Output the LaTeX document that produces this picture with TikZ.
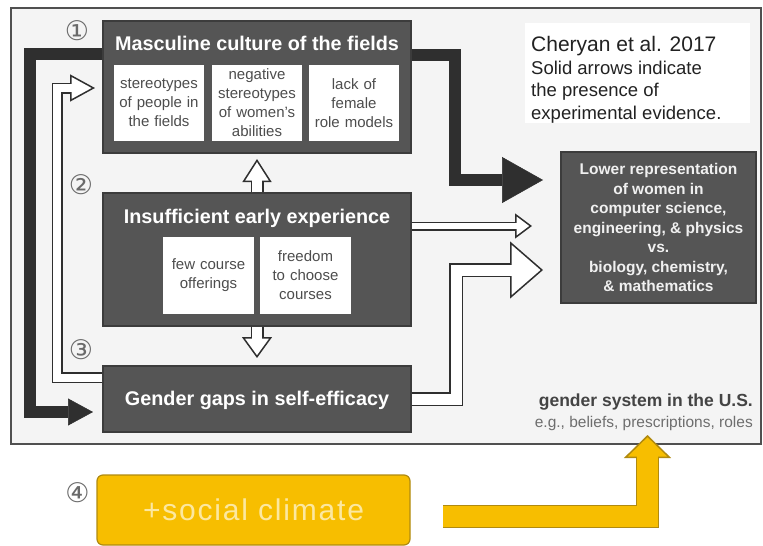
\documentclass[tikz,border=0pt]{standalone}
\usepackage{fontspec}
\setmainfont{Liberation Sans}
\newfontfamily\dejavu{DejaVu Sans}
\usetikzlibrary{arrows.meta,calc}
\definecolor{boxdark}{HTML}{555555}
\definecolor{boxedge}{HTML}{3C3C3C}
\definecolor{arrowdark}{HTML}{2F2F2F}
\definecolor{framebg}{HTML}{F4F4F4}
\definecolor{frameedge}{HTML}{505050}
\definecolor{yel}{HTML}{F7BE00}
\definecolor{yeledge}{HTML}{B08A10}
\definecolor{yeltext}{HTML}{FCE8A0}
\definecolor{numgray}{HTML}{6A6A6A}
\definecolor{subtext}{HTML}{4D4D4D}
\definecolor{gsgray}{HTML}{444444}
\definecolor{eggray}{HTML}{6E6E6E}
\definecolor{citetext}{HTML}{222222}
\definecolor{outtext}{HTML}{F0F0F0}
\tikzset{
  darkbox/.style={draw=boxedge, line width=1.5pt, fill=boxdark, inner sep=0pt},
  whitebox/.style={fill=white, draw=none, inner sep=0pt, align=center, text=subtext,
    font=\fontsize{15}{19}\selectfont},
  boxtitle/.style={text=white, font=\fontsize{19.8}{22}\selectfont\bfseries, inner sep=0pt, anchor=base},
  num/.style={text=numgray, font=\dejavu\fontsize{27}{27}\selectfont, inner sep=0pt},
  solidarrow/.style={draw=arrowdark, line width=12pt, line join=miter},
}
% #1 edge colour, #2 fill colour, #3 outer width, #4 inner width, #5 head length, #6 head width, #7 shorten, #8 path
\newcommand{\hollowarrow}[8]{%
  \draw[draw=#1, line width=#3, line join=miter,
        -{Triangle[length=#5, width=#6, color=#1, fill=#2, line width=1.5pt]}] #8;
  \draw[draw=#2, line width=#4, line join=miter, shorten >=#7] #8;
}
\begin{document}
\begin{tikzpicture}[x=1pt,y=-1pt]
\useasboundingbox (0,0) rectangle (763,546);
% frame
\node[draw=frameedge, line width=2pt, fill=framebg, minimum width=750pt, minimum height=436pt, inner sep=0pt] (frame) at (386,226) {};

% box 1
\node[darkbox, minimum width=308pt, minimum height=132pt] (m) at (257,87) {};
\node[boxtitle] (mt) at (257,50) {Masculine culture of the fields};
\node[whitebox, text width=90pt, minimum height=76pt] (m1) at (159,103) {stereotypes\\of people in\\the fields};
\node[whitebox, text width=90pt, minimum height=76pt] (m2) at (257,103) {negative\\stereotypes\\of women’s\\abilities};
\node[whitebox, text width=90pt, minimum height=76pt] (m3) at (354,103) {lack of\\female\\role models};

% box 2
\node[darkbox, minimum width=308pt, minimum height=133pt] (ins) at (257,259.5) {};
\node[boxtitle] (it) at (257,223) {Insufficient early experience};
\node[whitebox, text width=91pt, minimum height=77pt] (i1) at (208.5,275.5) {few course\\offerings};
\node[whitebox, text width=91pt, minimum height=77pt] (i2) at (305.5,275.5) {freedom\\to choose\\courses};

% box 3
\node[darkbox, minimum width=308pt, minimum height=66pt] (gg) at (257,399) {};
\node[boxtitle] (gt) at (257,405) {Gender gaps in self-efficacy};

% outcome
\node[darkbox, minimum width=195pt, minimum height=151pt, align=center, text=outtext,
  font=\fontsize{15.5}{19.5}\selectfont\bfseries] (out) at (658.5,227.5)
  {Lower representation\\of women in\\computer science,\\engineering, \& physics\\vs.\\biology, chemistry,\\\& mathematics};

% citation
\node[fill=white, draw=none, minimum width=225pt, minimum height=100pt, inner sep=0pt] (cite) at (637.5,73) {};
\node[anchor=west, align=left, inner sep=0pt, text=citetext, font=\fontsize{18.5}{22.5}\selectfont] (citetxt) at (531,80)
  {{\fontsize{21}{22.5}\selectfont Cheryan et al. 2017}\\Solid arrows indicate\\the presence of\\experimental evidence.};

% gender system
\node[anchor=base east, inner sep=0pt, text=gsgray, font=\fontsize{17.5}{20}\selectfont\bfseries] (gs) at (753,406) {gender system in the U.S.};
\node[anchor=base east, inner sep=0pt, text=eggray, font=\fontsize{15.5}{18}\selectfont] (gs2) at (753,427) {e.g., beliefs, prescriptions, roles};

% social climate
\node[draw=yeledge, line width=1.2pt, fill=yel, rounded corners=6pt, minimum width=313pt, minimum height=70pt,
  inner sep=0pt, text=yeltext, font=\fontsize{30}{32}\selectfont\addfontfeatures{LetterSpace=6}] (sc) at (253.5,510) {+social climate};

% numbers
\node[num] (n1) at (77,31) {①};
\node[num] (n2) at (81,185) {②};
\node[num] (n3) at (81,350) {③};
\node[num] (n4) at (77.5,492.5) {④};

% coordinates
\coordinate (lbTip) at (93,412);
\coordinate (rbTip) at (543,180);
\coordinate (h1Tip) at (95,88);
\coordinate (h2Tip) at (257,159);
\coordinate (h3Tip) at (257,358);
\coordinate (h4Tip) at (532,226);
\coordinate (h5Tip) at (543,270);
\coordinate (ysStart) at (443,516.5);
\coordinate (ysTip) at (647.5,435);

% solid arrows
\draw[solidarrow, -{Triangle[length=25pt, width=27pt, line width=0.5pt]}]
  (m.west |- 0,54) -- (30,54) -- (30,412) -- (lbTip);
\draw[solidarrow, -{Triangle[length=41pt, width=46pt, line width=0.5pt]}]
  (m.east |- 0,55) -- (455,55) -- (455,180) -- (rbTip);

% hollow arrows
\hollowarrow{arrowdark}{white}{11pt}{8pt}{25pt}{27pt}{22pt}{(gg.west |- 0,377.5) -- (57,377.5) -- (57,88) -- (h1Tip)}
\hollowarrow{arrowdark}{white}{13pt}{10pt}{23pt}{29pt}{20pt}{(ins.north) -- (h2Tip)}
\hollowarrow{arrowdark}{white}{13pt}{10pt}{21pt}{30pt}{18pt}{(ins.south) -- (h3Tip)}
\hollowarrow{arrowdark}{white}{9pt}{6pt}{17pt}{25pt}{14pt}{(ins.east |- 0,226) -- (h4Tip)}
\hollowarrow{arrowdark}{white}{14pt}{11pt}{33pt}{57pt}{30pt}{(gg.east) -- (456,399) -- (456,270) -- (h5Tip)}

% yellow arrow
\hollowarrow{yeledge}{yel}{23pt}{21pt}{23pt}{47pt}{20pt}{(ysStart) -- (647.5,516.5) -- (ysTip)}
\end{tikzpicture}
\end{document}
